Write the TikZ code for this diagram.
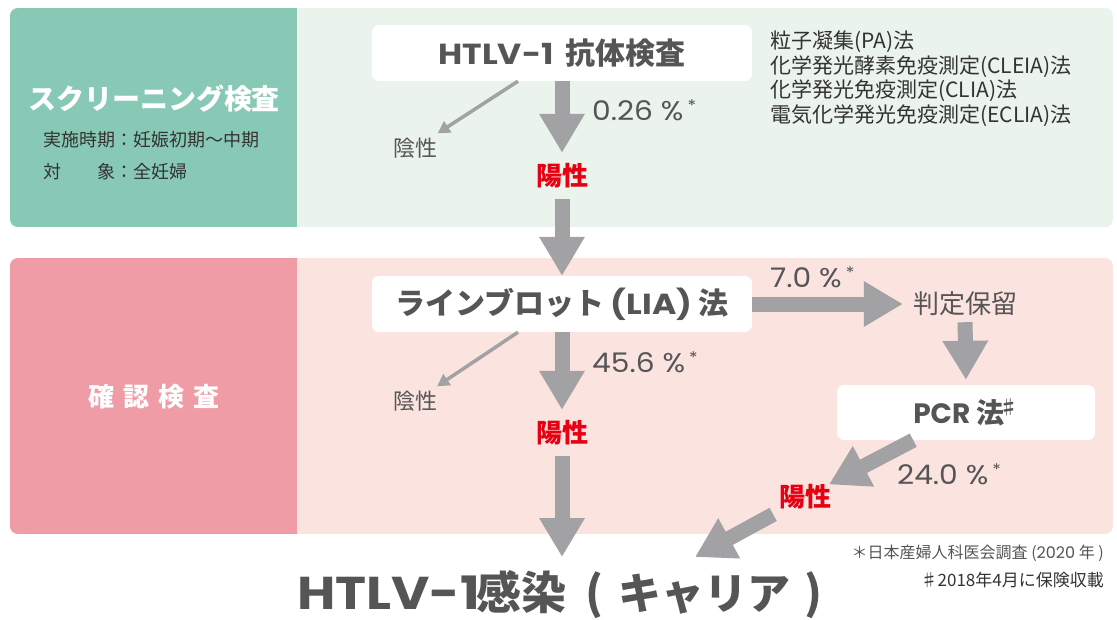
\documentclass[tikz,border=0pt]{standalone}
\usepackage{fontspec}
\setmainfont{Noto Sans CJK JP}
\newfontfamily\geo{Poppins}
\newfontfamily\geow{Poppins}[FakeStretch=1.14]
\newfontfamily\geop{Poppins}[FakeStretch=1.1]
\usetikzlibrary{arrows.meta}
\definecolor{teal}{HTML}{88C9B5}
\definecolor{lgreen}{HTML}{EAF3EC}
\definecolor{pink}{HTML}{F09CA6}
\definecolor{lpink}{HTML}{FBE3E0}
\definecolor{agray}{HTML}{A2A2A4}
\definecolor{tgray}{HTML}{555555}
\definecolor{dgray}{HTML}{333333}
\definecolor{pred}{HTML}{E60012}
\newcommand\fsz[1]{\fontsize{#1}{#1}\selectfont}
\tikzset{
  wbox/.style={fill=white, rounded corners=7pt, inner sep=0pt, text=tgray, font=\fsz{30}\bfseries},
  posi/.style={text=pred, font=\fsz{26}\bfseries, inner sep=0pt},
  nega/.style={text=tgray, font=\fsz{22}, inner sep=0pt},
  pct/.style={text=tgray, font=\geop\fsz{27}, inner sep=0pt, anchor=west},
  big/.style={draw=agray, line width=15pt, -{Triangle[width=43pt,length=39pt]}},
  thin/.style={draw=agray, line width=3.5pt, -{Triangle[width=13pt,length=12pt]}},
}
\newcommand\astr{\hspace{4pt}\raisebox{9pt}{\fsz{16}*}}
\begin{document}
\begin{tikzpicture}[x=1pt,y=-1pt]
\useasboundingbox (0,0) rectangle (1117,619);
% backgrounds
\begin{scope}
  \clip[rounded corners=8pt] (10,8) rectangle (1113,227);
  \fill[lgreen] (10,8) rectangle (1113,227);
  \fill[teal] (10,8) rectangle (297,227);
\end{scope}
\begin{scope}
  \clip[rounded corners=8pt] (10,258) rectangle (1113,534);
  \fill[lpink] (10,258) rectangle (1113,534);
  \fill[pink] (10,258) rectangle (297,534);
\end{scope}
% left panel texts
\node[text=white, font=\fsz{28}\bfseries, inner sep=0pt] (scr) at (154,99) {スクリーニング検査};
\node[text=dgray, font=\fsz{18}, inner sep=0pt, anchor=west] (when) at (43,140) {実施時期：妊娠初期～中期};
\node[text=dgray, font=\fsz{18}, inner sep=0pt, anchor=west] (who) at (43,172) {対　　象：全妊婦};
\node[text=white, font=\fsz{26}\bfseries, inner sep=0pt, anchor=west] (conf) at (88,397) {確\hspace{9pt}認\hspace{9pt}検\hspace{9pt}査};
% method list
\node[text=dgray, font=\fontsize{21}{24.5}\selectfont, inner sep=0pt, anchor=north west, align=left] (list) at (770,31)
  {粒子凝集(PA)法\\化学発光酵素免疫測定(CLEIA)法\\化学発光免疫測定(CLIA)法\\電気化学発光免疫測定(ECLIA)法};
% boxes
\node[wbox, minimum width=380pt, minimum height=56pt] (b1) at (562,53) {{\geow\fsz{29}HTLV-1}\hspace{12pt}抗体検査};
\node[wbox, minimum width=380pt, minimum height=56pt] (b2) at (562,304) {ラインブロット\hspace{6pt}{\geow\fsz{29}(LIA)}\hspace{6pt}法};
\node[wbox, minimum width=258pt, minimum height=55pt, font=\fsz{28}\bfseries] (pcr) at (966,412.5) {{\geo PCR} 法\hspace{-5pt}\raisebox{9pt}{\fsz{19}♯}};
% result labels
\node[posi, minimum height=46pt] (p1) at (562,176) {陽性};
\node[posi, minimum height=46pt] (p2) at (562,433) {陽性};
\node[posi] (p3) at (805,497) {陽性};
\node[nega] (n1) at (415,148) {陰性};
\node[nega] (n2) at (415,401) {陰性};
\node[text=tgray, font=\fsz{26}, inner sep=0pt] (hold) at (965,304) {判定保留};
\node[text=tgray, font=\fsz{45}\bfseries, inner sep=0pt, anchor=west, text height=36pt, text depth=6pt] (title) at (297,594)
  {\makebox[168pt][s]{\geow\fsz{46}H\hfill T\hfill L\hfill V\hfill -\hfill 1}\hspace{11pt}\makebox[109pt][l]{感染}\makebox[33pt][l]{(}\makebox[186pt][l]{\fsz{43}キャリア})};
\coordinate (tip1) at (562,557);
\coordinate (tip2) at (695,557);
% percentages
\node[pct] (c1) at (592,110) {0.26 \%\astr};
\node[pct] (c2) at (592,362) {45.6 \%\astr};
\node[pct] (c3) at (770,277) {7.0 \%\astr};
\node[pct] (c4) at (897,474) {24.0 \%\astr};
% footnotes
\node[text=tgray, font=\fsz{16}, inner sep=0pt, anchor=east] (f1) at (1104,553) {＊日本産婦人科医会調査 ({\geo 2020} 年 )};
\node[text=dgray, font=\fsz{17}, inner sep=0pt, anchor=east] (f2) at (1104,580) {♯2018年4月に保険収載};
% arrows
\draw[big] (b1.south) -- (p1.north);
\draw[big] (p1.south) -- (b2.north);
\draw[big] (b2.south) -- (p2.north);
\draw[big] (p2.south) -- (tip1);
\draw[big, shorten >=10pt] (b2.east) -- (hold.west);
\draw[big, shorten <=6pt, shorten >=5pt] (hold.south) -- (pcr.north);
\draw[big] (pcr) -- (p3);
\draw[big, shorten <=10pt] (p3) -- (tip2);
\draw[thin, shorten >=8pt] ([xshift=-44pt]b1.south) -- (n1);
\draw[thin, shorten >=8pt] ([xshift=-44pt]b2.south) -- (n2);
\end{tikzpicture}
\end{document}
